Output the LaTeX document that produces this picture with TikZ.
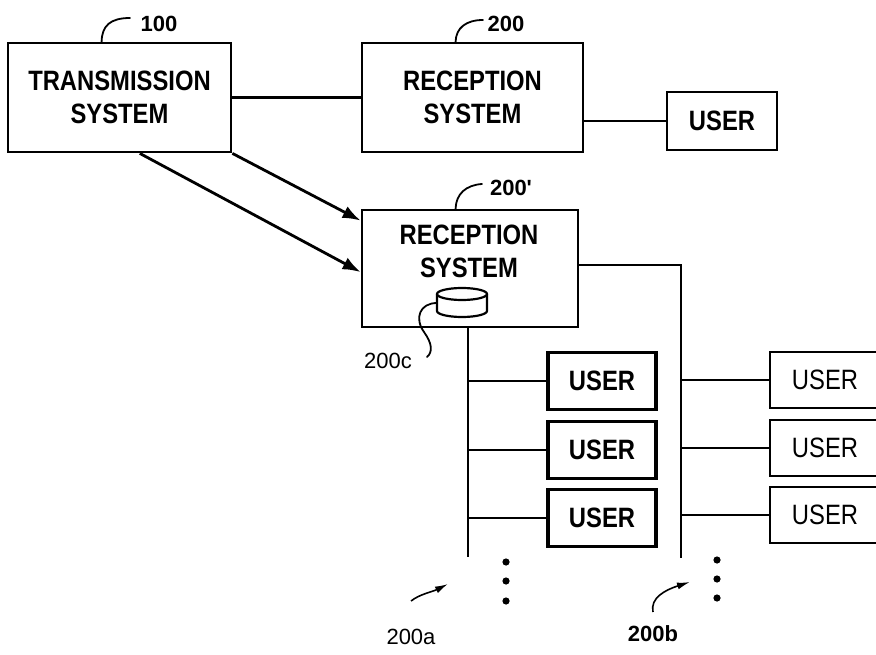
\documentclass[tikz,border=0pt]{standalone}
\usepackage{fontspec}
\setmainfont{Liberation Sans}[FakeStretch=0.85]
\newfontfamily\lblfont{Liberation Sans}
\usetikzlibrary{arrows.meta,calc}
\newcommand\bxfont{\bfseries\fontsize{28}{33}\selectfont}
\newcommand\bxfontl{\fontsize{28}{33}\selectfont}
\newcommand\lbfont{\lblfont\bfseries\fontsize{22}{26}\selectfont}
\newcommand\lbfontb{\lblfont\fontsize{22}{25}\selectfont}
\begin{document}
\begin{tikzpicture}[x=1pt,y=-1pt,
  box/.style={draw, line width=2.8pt, inner sep=0pt, align=center, font=\bxfont},
  ubox/.style={box, minimum width=108pt, minimum height=57pt},
  conn/.style={line width=2.4pt, line join=miter},
  arr/.style={line width=2.8pt, -{Latex[length=18pt,width=13pt]}},
  lead/.style={line width=1.8pt, line cap=round},
  sarr/.style={line width=1.6pt, -{Latex[length=13pt,width=7pt]}},
  lbl/.style={inner sep=0pt, font=\lbfont},
  lblb/.style={inner sep=0pt, font=\lbfontb}]
\useasboundingbox (0,0) rectangle (876,655);
\fill[white] (0,0) rectangle (876,655);
\begin{scope}
\clip (0,0) rectangle (876,655);
% main boxes
\node[box, minimum width=223pt, minimum height=109pt] (t) at (119.5,97.5) {TRANSMISSION\\SYSTEM};
\node[box, minimum width=221pt, minimum height=109pt] (r1) at (472.5,97.5) {RECEPTION\\SYSTEM};
\node[box, minimum width=110pt, minimum height=58pt] (u0) at (722,121) {USER};
\node[box, minimum width=216pt, minimum height=117pt] (r2) at (470,268.5) {};
\node[font=\bxfont, align=center, inner sep=0pt] (r2t) at (469,251) {RECEPTION\\SYSTEM};
% user boxes
\node[ubox, line width=3.2pt] (ua1) at (602,381) {USER};
\node[ubox, line width=3.2pt] (ua2) at (602,450) {USER};
\node[ubox, line width=3.2pt] (ua3) at (602,518) {USER};
\node[ubox, minimum width=110pt, minimum height=56pt, font=\bxfontl] (ub1) at (825,380) {USER};
\node[ubox, minimum width=110pt, minimum height=56pt, font=\bxfontl] (ub2) at (825,448) {USER};
\node[ubox, minimum width=110pt, minimum height=56pt, font=\bxfontl] (ub3) at (825,515) {USER};
% connectors
\draw[conn] (t.east) -- (r1.west);
\draw[conn] (u0.west -| r1.east) -- (u0.west);
\draw[arr] (t.south east) -- ($(r2.north west)!0.1!(r2.south west)$);
\draw[arr] ($(t.south west)!0.59!(t.south east)$) -- ($(r2.north west)!0.53!(r2.south west)$);
\coordinate (bbt) at (681,265);
\coordinate (bbb) at (681,558);
\draw[conn] (bbt -| r2.east) -- (bbt) -- (bbb);
\coordinate (bab) at (468,557);
\draw[conn] (r2.south -| bab) -- (bab);
\foreach \n in {ua1,ua2,ua3} \draw[conn] (\n.west -| bab) -- (\n.west);
\foreach \n in {ub1,ub2,ub3} \draw[conn] (\n.west -| bbb) -- (\n.west);
% cylinder (storage 200c)
\draw[line width=2.2pt, fill=white] (437,294) -- (437,311) arc[start angle=180, end angle=0, x radius=25, y radius=6] -- (487,294);
\draw[line width=2.2pt] (462,294) ellipse [x radius=25, y radius=6];
\coordinate (cylL) at (437,303);
% dots
\foreach \y in {562,581,601} \fill (506,\y) circle[radius=3.6];
\foreach \y in {560,579,598} \fill (717,\y) circle[radius=3.6];
% reference labels
\node[lbl] (n100) at (159,24) {100};
\coordinate (e100) at (130,18);
\draw[lead] ($(t.north west)+(95,0)$) .. controls (102,26) and (110,18) .. (e100);
\node[lbl] (n200) at (506,24) {200};
\coordinate (e200) at (483,20);
\draw[lead] ($(r1.north west)+(95,0)$) .. controls (456,28) and (466,20) .. (e200);
\node[lbl] (n200p) at (511,188) {200'};
\coordinate (e200p) at (482,184);
\draw[lead] ($(r2.north west)+(95,0)$) .. controls (456,194) and (466,185) .. (e200p);
\node[lblb] (n200c) at (388,361) {200c};
\coordinate (e200c) at (427,357);
\draw[lead] (cylL) .. controls (420,303) and (414,318) .. (424,332) .. controls (432,343) and (433,352) .. (e200c);
\node[lblb] (n200a) at (411,637) {200a};
\coordinate (a0) at (411,601);
\coordinate (a1) at (448,584);
\draw[sarr] (a0) .. controls (420,594) and (432,592) .. (a1);
\node[lbl] (n200b) at (653,634) {200b};
\coordinate (b0) at (653,612);
\coordinate (b1) at (690,582);
\draw[sarr] (b0) .. controls (650,598) and (665,590) .. (b1);
\end{scope}
\end{tikzpicture}
\end{document}
